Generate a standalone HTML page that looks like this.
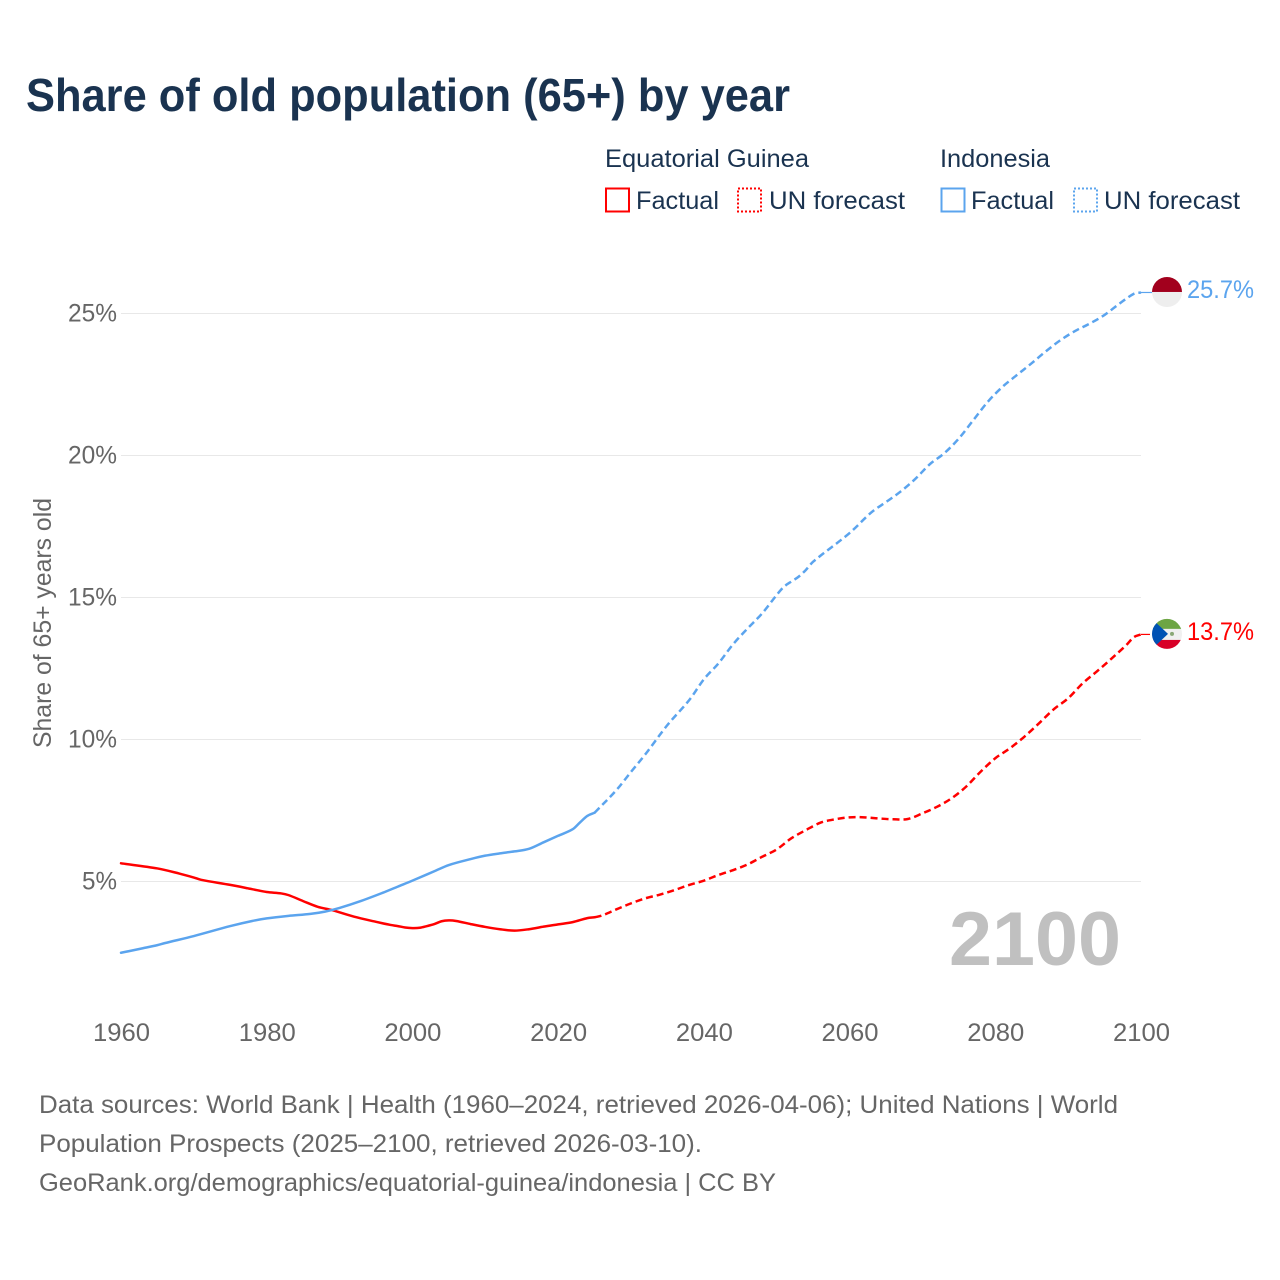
<!DOCTYPE html>
<html lang="en">
<head>
<meta charset="utf-8">
<title>Share of old population (65+) by year</title>
<style>
  html, body { margin: 0; padding: 0; background: #ffffff; }
  svg { display: block; }
  text { font-family: "Liberation Sans", sans-serif; }
</style>
</head>
<body>
<svg id="chart" xmlns="http://www.w3.org/2000/svg" width="1280" height="1280" viewBox="0 0 1280 1280">
  <rect x="0" y="0" width="1280" height="1280" fill="#ffffff"/>
  <text x="26" y="111" font-size="46" font-weight="700" fill="#1a3350" textLength="764" lengthAdjust="spacingAndGlyphs">Share of old population (65+) by year</text>

  <g font-size="25" fill="#1a3350">
    <text x="605" y="167" textLength="204" lengthAdjust="spacingAndGlyphs">Equatorial Guinea</text>
    <rect x="606" y="188.5" width="23" height="23" fill="none" stroke="#ff0000" stroke-width="2"/>
    <text x="636" y="209" textLength="83" lengthAdjust="spacingAndGlyphs">Factual</text>
    <rect x="738" y="188.5" width="23" height="23" fill="none" stroke="#ff0000" stroke-width="2" stroke-dasharray="2 2"/>
    <text x="769" y="209" textLength="136" lengthAdjust="spacingAndGlyphs">UN forecast</text>
    <text x="940" y="167" textLength="110" lengthAdjust="spacingAndGlyphs">Indonesia</text>
    <rect x="941.5" y="188.5" width="23" height="23" fill="none" stroke="#5ba4ee" stroke-width="2"/>
    <text x="971" y="209" textLength="83" lengthAdjust="spacingAndGlyphs">Factual</text>
    <rect x="1074" y="188.5" width="23" height="23" fill="none" stroke="#5ba4ee" stroke-width="2" stroke-dasharray="2 2"/>
    <text x="1104" y="209" textLength="136" lengthAdjust="spacingAndGlyphs">UN forecast</text>
  </g>

  <text transform="translate(51 748) rotate(-90)" font-size="25" fill="#666666" textLength="250" lengthAdjust="spacingAndGlyphs">Share of 65+ years old</text>
  <text x="949" y="965" font-size="76" font-weight="700" fill="#c0c0c0" textLength="172" lengthAdjust="spacingAndGlyphs">2100</text>

  <g id="grid"></g>
  <g id="yticks"></g>
  <g id="xticks"></g>
  <g id="series"></g>

  <defs>
    <clipPath id="clip-flag-id"><circle id="clip-id-circle" cx="1167" cy="292" r="15"/></clipPath>
    <clipPath id="clip-flag-eg"><circle id="clip-eg-circle" cx="1167" cy="634" r="15"/></clipPath>
  </defs>
  <g id="flag-id" clip-path="url(#clip-flag-id)">
    <rect id="flag-id-top" x="1151" width="32" height="16" fill="#a2001d"/>
    <rect id="flag-id-bottom" x="1151" width="32" height="16" fill="#eeeeee"/>
  </g>
  <g id="flag-eg" clip-path="url(#clip-flag-eg)">
    <rect id="flag-eg-green" x="1151" width="32" height="11" fill="#6da544"/>
    <rect id="flag-eg-white" x="1151" width="32" height="11" fill="#f0f0f0"/>
    <rect id="flag-eg-red" x="1151" width="32" height="11" fill="#d80027"/>
    <polygon id="flag-eg-blue" fill="#0052b4" points="0,0"/>
    <circle id="flag-eg-emblem" cx="1172" r="2" fill="#8aa876"/>
  </g>
  <g id="end-labels"></g>

  <g font-size="25" fill="#666666">
    <text x="39" y="1113" textLength="1079" lengthAdjust="spacingAndGlyphs">Data sources: World Bank | Health (1960–2024, retrieved 2026-04-06); United Nations | World</text>
    <text x="39" y="1152" textLength="663" lengthAdjust="spacingAndGlyphs">Population Prospects (2025–2100, retrieved 2026-03-10).</text>
    <text x="39" y="1191" textLength="737" lengthAdjust="spacingAndGlyphs">GeoRank.org/demographics/equatorial-guinea/indonesia | CC BY</text>
  </g>
</svg>
<script>
const yTickValues = [5, 10, 15, 20, 25];
const yTickLabels = ["5%", "10%", "15%", "20%", "25%"];
const xTickValues = [1960, 1980, 2000, 2020, 2040, 2060, 2080, 2100];
const xTickLabels = ["1960", "1980", "2000", "2020", "2040", "2060", "2080", "2100"];

const egFactualYears = [1960,1965,1968,1970,1971,1975,1978,1980,1982,1983,1985,1987,1989,1992,1995,1997,1998,1999,2000,2001,2002,2003,2004,2005,2006,2008,2010,2012,2014,2016,2018,2020,2022,2024,2025];
const egFactualValues = [5.64,5.46,5.28,5.14,5.06,4.88,4.73,4.63,4.58,4.52,4.31,4.11,3.99,3.76,3.58,3.47,3.43,3.38,3.36,3.37,3.43,3.5,3.6,3.63,3.61,3.5,3.4,3.32,3.27,3.32,3.41,3.49,3.57,3.71,3.74];
const egForecastYears = [2025,2026,2028,2030,2032,2034,2036,2038,2040,2042,2044,2046,2048,2050,2052,2054,2056,2058,2060,2062,2064,2066,2068,2070,2072,2074,2076,2078,2080,2082,2084,2086,2088,2090,2092,2094,2096,2098,2099,2100];
const egForecastValues = [3.74,3.8,4.02,4.23,4.41,4.54,4.7,4.88,5.03,5.23,5.4,5.6,5.87,6.13,6.52,6.81,7.07,7.19,7.26,7.26,7.22,7.19,7.2,7.4,7.63,7.93,8.34,8.87,9.34,9.69,10.1,10.57,11.06,11.45,11.98,12.41,12.86,13.33,13.6,13.7];

const idFactualYears = [1960,1963,1965,1966,1970,1975,1978,1980,1983,1986,1988,1990,1993,1996,1998,2000,2003,2005,2008,2010,2012,2014,2016,2018,2020,2022,2023,2024,2025];
const idFactualValues = [2.49,2.65,2.76,2.83,3.08,3.43,3.61,3.7,3.79,3.86,3.94,4.07,4.32,4.61,4.82,5.03,5.36,5.58,5.79,5.91,5.99,6.06,6.15,6.38,6.61,6.84,7.08,7.31,7.42];
const idForecastYears = [2025,2028,2030,2032,2035,2038,2040,2042,2044,2046,2048,2050,2051,2052,2053,2054,2055,2060,2063,2065,2067,2069,2071,2073,2075,2077,2079,2081,2083,2085,2087,2089,2091,2093,2095,2097,2099,2100];
const idForecastValues = [7.42,8.22,8.86,9.49,10.51,11.39,12.12,12.68,13.35,13.91,14.44,15.09,15.38,15.56,15.73,15.97,16.26,17.27,18,18.36,18.73,19.17,19.69,20.08,20.6,21.25,21.9,22.42,22.84,23.25,23.68,24.07,24.39,24.65,24.95,25.34,25.69,25.74];

const endLabelValues = ["25.7%", "13.7%"];

function xScale(year) { return 121 + (year - 1960) * (1141 - 121) / 140; }
function yScale(value) { return 881.5 - (value - 5) * 28.4; }

const NS = "http://www.w3.org/2000/svg";
function mk(tag, attrs, parent) {
  const el = document.createElementNS(NS, tag);
  for (const k in attrs) el.setAttribute(k, attrs[k]);
  parent.appendChild(el);
  return el;
}

const grid = document.getElementById("grid");
const yticks = document.getElementById("yticks");
yTickValues.forEach(function (v, i) {
  const line = mk("line", { x1: 121, x2: 1141, y1: yScale(v), y2: yScale(v), stroke: "#e8e8e8", "stroke-width": 1 }, grid);
  
  
  const t = mk("text", { x: 117, y: yScale(v) + 8, "text-anchor": "end", "font-size": 25, fill: "#666666", textLength: yTickLabels[i].length * 14 + 7, lengthAdjust: "spacingAndGlyphs" }, yticks);
  t.textContent = yTickLabels[i];
  
  
});

const xticks = document.getElementById("xticks");
xTickValues.forEach(function (v, i) {
  const t = mk("text", { x: xScale(v) + 0.5, y: 1041, "text-anchor": "middle", "font-size": 25, fill: "#666666", textLength: 57, lengthAdjust: "spacingAndGlyphs" }, xticks);
  t.textContent = xTickLabels[i];
  
  
});

function pathFrom(years, values) {
  const pts = years.map(function (y, i) { return [xScale(y), yScale(values[i])]; });
  let d = "M" + pts[0][0].toFixed(2) + " " + pts[0][1].toFixed(2);
  for (let i = 0; i < pts.length - 1; i++) {
    const p0 = pts[Math.max(0, i - 1)];
    const p1 = pts[i];
    const p2 = pts[i + 1];
    const p3 = pts[Math.min(pts.length - 1, i + 2)];
    const k1 = (p2[0] - p1[0]) / ((p3[0] - p1[0]) || 1) / 3;
    const k0 = (p2[0] - p1[0]) / ((p2[0] - p0[0]) || 1) / 3;
    const c1x = p1[0] + (p2[0] - p0[0]) * k0;
    const c1y = p1[1] + (p2[1] - p0[1]) * k0;
    const c2x = p2[0] - (p3[0] - p1[0]) * k1;
    const c2y = p2[1] - (p3[1] - p1[1]) * k1;
    d += "C" + c1x.toFixed(2) + " " + c1y.toFixed(2) + " " + c2x.toFixed(2) + " " + c2y.toFixed(2) + " " + p2[0].toFixed(2) + " " + p2[1].toFixed(2);
  }
  return d;
}

const seriesGroup = document.getElementById("series");
const egFactualPath = mk("path", { d: pathFrom(egFactualYears, egFactualValues), fill: "none", stroke: "#ff0000", "stroke-width": 2.5, "stroke-linejoin": "round", "stroke-linecap": "round" }, seriesGroup);


const egForecastPath = mk("path", { d: pathFrom(egForecastYears, egForecastValues), fill: "none", stroke: "#ff0000", "stroke-width": 2.5, "stroke-linejoin": "round", "stroke-dasharray": "7 4" }, seriesGroup);


const idFactualPath = mk("path", { d: pathFrom(idFactualYears, idFactualValues), fill: "none", stroke: "#5ba4ee", "stroke-width": 2.5, "stroke-linejoin": "round", "stroke-linecap": "round" }, seriesGroup);


const idForecastPath = mk("path", { d: pathFrom(idForecastYears, idForecastValues), fill: "none", stroke: "#5ba4ee", "stroke-width": 2.5, "stroke-linejoin": "round", "stroke-dasharray": "7 4" }, seriesGroup);



const idEndY = yScale(idForecastValues[idForecastValues.length - 1]);
const egEndY = yScale(egForecastValues[egForecastValues.length - 1]);

const idLeader = mk("line", { x1: 1141, x2: 1153, y1: idEndY, y2: idEndY, stroke: "#5ba4ee", "stroke-width": 1.2 }, seriesGroup);


const egLeader = mk("line", { x1: 1141, x2: 1150, y1: egEndY, y2: egEndY, stroke: "#ff0000", "stroke-width": 1.2 }, seriesGroup);



document.getElementById("clip-id-circle").setAttribute("cy", idEndY - 0.5);
document.getElementById("flag-id-top").setAttribute("y", idEndY - 16.5);
document.getElementById("flag-id-bottom").setAttribute("y", idEndY - 0.5);

document.getElementById("clip-eg-circle").setAttribute("cy", egEndY - 0.5);
document.getElementById("flag-eg-green").setAttribute("y", egEndY - 16.5);
document.getElementById("flag-eg-white").setAttribute("y", egEndY - 5.5);
document.getElementById("flag-eg-red").setAttribute("y", egEndY + 5.5);
document.getElementById("flag-eg-blue").setAttribute("points",
  "1151," + (egEndY - 16.5) + " 1168," + (egEndY - 0.5) + " 1151," + (egEndY + 15.5));
document.getElementById("flag-eg-emblem").setAttribute("cy", egEndY - 0.5);

const endLabels = document.getElementById("end-labels");
const idEndLabel = mk("text", { x: 1187, y: idEndY + 5.5, "font-size": 25, fill: "#5ba4ee", textLength: 67, lengthAdjust: "spacingAndGlyphs" }, endLabels);
idEndLabel.textContent = endLabelValues[0];


const egEndLabel = mk("text", { x: 1187, y: egEndY + 5.5, "font-size": 25, fill: "#ff0000", textLength: 67, lengthAdjust: "spacingAndGlyphs" }, endLabels);
egEndLabel.textContent = endLabelValues[1];


</script>
</body>
</html>
